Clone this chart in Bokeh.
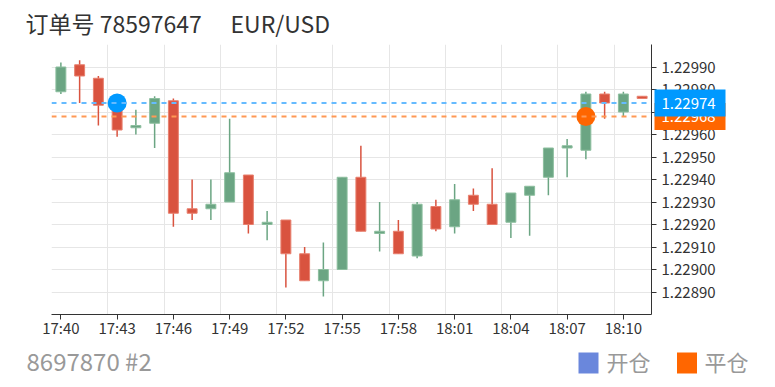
from bokeh.plotting import figure
from bokeh.models import FixedTicker, PrintfTickFormatter, Span, ColumnDataSource
from bokeh.core.properties import value
from bokeh.embed import file_html
from bokeh.resources import INLINE

# ---------------- data ----------------
times = ["17:40", "17:41", "17:42", "17:43", "17:44", "17:45", "17:46", "17:47",
         "17:48", "17:49", "17:50", "17:51", "17:52", "17:53", "17:54", "17:55",
         "17:56", "17:57", "17:58", "17:59", "18:00", "18:01", "18:02", "18:03",
         "18:04", "18:05", "18:06", "18:07", "18:08", "18:09", "18:10", "18:11"]
opens = [1.22979, 1.22991, 1.22985, 1.22971, 1.22963, 1.22965, 1.22975, 1.22927,
         1.22927, 1.22930, 1.22942, 1.22920, 1.22922, 1.22907, 1.22895, 1.22900,
         1.22941, 1.22916, 1.22917, 1.22906, 1.22928, 1.22919, 1.22933, 1.22929,
         1.22921, 1.22933, 1.22941, 1.22954, 1.22953, 1.22978, 1.22970, 1.22977]
highs = [1.22992, 1.22993, 1.22986, 1.22972, 1.22971, 1.22977, 1.22976, 1.22940,
         1.22940, 1.22967, 1.22942, 1.22926, 1.22922, 1.22910, 1.22912, 1.22941,
         1.22955, 1.22930, 1.22922, 1.22930, 1.22931, 1.22938, 1.22936, 1.22945,
         1.22934, 1.22937, 1.22954, 1.22958, 1.22979, 1.22979, 1.22979, 1.22977]
lows = [1.22978, 1.22974, 1.22964, 1.22959, 1.22960, 1.22954, 1.22919, 1.22922,
        1.22922, 1.22930, 1.22916, 1.22913, 1.22892, 1.22895, 1.22888, 1.22900,
        1.22917, 1.22908, 1.22907, 1.22905, 1.22917, 1.22916, 1.22926, 1.22920,
        1.22914, 1.22915, 1.22933, 1.22941, 1.22949, 1.22967, 1.22968, 1.22976]
closes = [1.22990, 1.22986, 1.22973, 1.22962, 1.22964, 1.22976, 1.22925, 1.22925,
          1.22929, 1.22943, 1.22920, 1.22921, 1.22907, 1.22895, 1.22900, 1.22941,
          1.22917, 1.22917, 1.22907, 1.22929, 1.22918, 1.22931, 1.22929, 1.22920,
          1.22934, 1.22937, 1.22954, 1.22955, 1.22978, 1.22974, 1.22978, 1.22976]

open_index = 3
open_price = 1.22974
close_index = 28
close_price = 1.22968

y_ticks = [1.22890, 1.22900, 1.22910, 1.22920, 1.22930, 1.22940, 1.22950,
           1.22960, 1.22970, 1.22980, 1.22990]
y_grid = [1.22880] + y_ticks + [1.23000]
y_min, y_max = 1.22880, 1.23000
x_tick_every = 3

title_text = "订单号 78597647"
symbol_text = "EUR/USD"
footer_text = "8697870 #2"
legend_labels = ["开仓", "平仓"]

# ---------------- layout / styles ----------------
W, H = 775, 387
LEFT, RIGHT, TOP, BOTTOM = 51, 124, 44, 73
FONT = "Noto Sans CJK SC"
UP = "#6ba583"
UP_EDGE = "#8dbf9f"
DOWN = "#d9533f"
DOWN_EDGE = "#e8806f"
BLUE = "#0099ff"
BLUE_LINE = "#66bbff"
ORANGE = "#ff6600"
ORANGE_LINE = "#ff9955"
LEGEND_BLUE = "#6a87dc"

n = len(times)
x0, x1 = -0.5, n - 0.5
fw, fh = W - LEFT - RIGHT, H - TOP - BOTTOM


def px_x(px):
    """canvas pixel column -> data x (for texts placed outside the frame)"""
    return x0 + (px - LEFT) * (x1 - x0) / fw


def px_y(py):
    """canvas pixel row -> data y"""
    return y_max - (py - TOP) * (y_max - y_min) / fh


xs = list(range(n))
up = [c >= o for o, c in zip(opens, closes)]
src = ColumnDataSource(dict(
    x=xs,
    top=[max(o, c) for o, c in zip(opens, closes)],
    bottom=[min(o, c) for o, c in zip(opens, closes)],
    high=highs, low=lows,
    fill=[UP if u else DOWN for u in up],
    edge=[UP_EDGE if u else DOWN_EDGE for u in up],
))

p = figure(width=W, height=H, x_range=(x0, x1), y_range=(y_min, y_max),
           y_axis_location="right", toolbar_location=None, output_backend="svg",
           min_border_left=LEFT, min_border_right=RIGHT, min_border_top=TOP,
           min_border_bottom=BOTTOM, title=None)
p.outline_line_color = None
p.background_fill_color = "white"
p.border_fill_color = "white"

# grids
p.xgrid.ticker = FixedTicker(ticks=[i - 0.5 for i in range(0, n, x_tick_every)])
p.ygrid.ticker = FixedTicker(ticks=y_grid)
for g in (p.xgrid, p.ygrid):
    g.grid_line_color = "#e6e6e6"
    g.grid_line_width = 1

# x axis
xa = p.xaxis[0]
xa.ticker = FixedTicker(ticks=list(range(0, n, x_tick_every)))
xa.major_label_overrides = {i: times[i] for i in range(0, n, x_tick_every)}
xa.minor_tick_line_color = None
xa.major_tick_in = 0
xa.major_tick_out = 5
xa.axis_line_color = "#333333"
xa.major_tick_line_color = "#333333"
xa.major_label_text_font = FONT
xa.major_label_text_font_size = "15px"
xa.major_label_text_color = "#333333"
xa.major_label_standoff = -3

# y axis (right)
ya = p.yaxis[0]
ya.ticker = FixedTicker(ticks=y_ticks)
ya.formatter = PrintfTickFormatter(format="%.5f")
ya.minor_tick_line_color = None
ya.major_tick_in = 0
ya.major_tick_out = 5
ya.axis_line_color = "#333333"
ya.major_tick_line_color = "#333333"
ya.major_label_text_font = FONT
ya.major_label_text_font_size = "15px"
ya.major_label_text_color = "#333333"
ya.major_label_standoff = 5

# candles
p.segment(x0="x", x1="x", y0="low", y1="high", source=src, line_color="fill",
          line_width=1.5)
p.vbar(x="x", width=0.53, top="top", bottom="bottom", source=src,
       fill_color="fill", line_color="edge", line_width=1)

# mark lines
p.add_layout(Span(location=open_price, dimension="width", line_color=BLUE_LINE,
                  line_width=2, line_dash="5 5"))
p.add_layout(Span(location=close_price, dimension="width", line_color=ORANGE_LINE,
                  line_width=2, line_dash="5 5"))

# trade points
p.scatter(x=[open_index], y=[open_price], size=19, fill_color=BLUE, line_color=None)
p.scatter(x=[close_index], y=[close_price], size=19, fill_color=ORANGE, line_color=None)

# price tags on the right axis (drawn above the axis, outside the frame)
tag_x = px_x(689.5)
for price, col in ((close_price, ORANGE), (open_price, BLUE)):
    p.rect(x=[tag_x], y=[price], width=71, height=27, width_units="screen",
           height_units="screen", fill_color=col, line_color=None, level="overlay")
    p.text(x=[px_x(661)], y=[price], text=[f"{price:.5f}"], text_color="white",
           text_font=value(FONT), text_font_size="15px", text_baseline="middle",
           text_align="left", level="overlay")

# header texts
p.text(x=[px_x(25)], y=[px_y(22)], text=[title_text], text_font=value(FONT),
       text_font_size="23px", text_color="#333333", text_baseline="middle",
       level="overlay")
p.text(x=[px_x(230)], y=[px_y(22)], text=[symbol_text], text_font=value(FONT),
       text_font_size="23px", text_color="#333333", text_baseline="middle",
       level="overlay")

# footer
p.text(x=[px_x(26)], y=[px_y(360)], text=[footer_text], text_font=value(FONT),
       text_font_size="24px", text_color="#999999", text_baseline="middle",
       level="overlay")

# legend (squares + labels)
for (sq_px, txt_px), col, lab in (((588, 606), LEGEND_BLUE, legend_labels[0]),
                                   ((686.5, 704), ORANGE, legend_labels[1])):
    p.rect(x=[px_x(sq_px)], y=[px_y(362.5)], width=20, height=21,
           width_units="screen", height_units="screen", fill_color=col,
           line_color=None, level="overlay")
    p.text(x=[px_x(txt_px)], y=[px_y(360)], text=[lab], text_font=value(FONT),
           text_font_size="22px", text_color="#999999", text_baseline="middle",
           level="overlay")

open("out.html", "w").write(file_html(p, INLINE))
